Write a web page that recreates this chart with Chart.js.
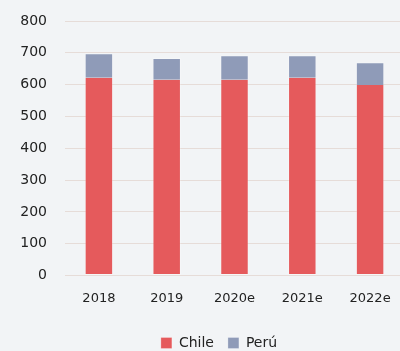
<!DOCTYPE html>
<html>
<head>
<meta charset="utf-8">
<script src="https://cdn.jsdelivr.net/npm/chart.js@4.4.1/dist/chart.umd.min.js"></script>
<style>
  html, body { margin: 0; padding: 0; background: #f2f4f6; overflow: hidden; }
  #wrap { width: 400px; height: 351px; overflow: hidden; }
</style>
</head>
<body>
<div id="wrap"><canvas id="prodChart" width="405" height="365"></canvas></div>
<script>
const years = ["2018", "2019", "2020e", "2021e", "2022e"];
const chile = [622, 615, 615, 622, 599];
const peru = [77, 69, 77, 70, 71];
const yTicks = [0, 100, 200, 300, 400, 500, 600, 700, 800];

const ctx = document.getElementById('prodChart');

const edge = 'rgba(255,255,255,0.25)';
const textColor = '#222';

// nudge the legend a little to the right of the canvas centre
const legendShift = {
    id: 'legendShift',
    afterLayout(chart) {
        chart.legend.left += 17;
        chart.legend.right += 17;
    }
};

new Chart(ctx, {

    type: 'bar',

    data: {
        labels: years,
        datasets: [
            {
                label: 'Chile',
                data: chile,
                backgroundColor: '#e55a5c',
                borderColor: edge,
                borderWidth: 1,
                borderSkipped: 'top'
            },
            {
                label: 'Perú',
                data: peru,
                backgroundColor: '#8f9bb8',
                borderColor: edge,
                borderWidth: 1,
                borderSkipped: 'bottom'
            }
        ]
    },

    options: {
        responsive: false,
        animation: false,
        layout: {
            padding: { left: 0, right: 1, top: 21, bottom: 5 }
        },
        datasets: {
            bar: { barPercentage: 0.42, categoryPercentage: 1 }
        },
        plugins: {
            legend: {
                position: 'bottom',
                labels: {
                    boxWidth: 11,
                    boxHeight: 11,
                    padding: 14,
                    color: textColor,
                    font: { family: 'DejaVu Sans', size: 14 }
                }
            },
            tooltip: { enabled: false }
        },
        scales: {
            x: {
                stacked: true,
                grid: { display: false },
                border: { display: false },
                afterFit: scale => { scale.height = 46.5; },
                ticks: {
                    color: textColor,
                    padding: 7,
                    maxRotation: 0,
                    autoSkip: false,
                    font: { family: 'DejaVu Sans', size: 13 }
                }
            },
            y: {
                stacked: true,
                min: 0,
                max: 800,
                afterBuildTicks: axis => {
                    axis.ticks = yTicks.map(v => ({ value: v }));
                },
                afterFit: scale => {
                    scale.width = 65;
                    scale.paddingTop = 0;
                    scale.paddingBottom = 0;
                },
                grid: { color: '#e6dcd8', drawTicks: false },
                border: { display: false },
                ticks: {
                    color: textColor,
                    padding: 18,
                    font: { family: 'DejaVu Sans', size: 14 }
                }
            }
        }
    },

    plugins: [legendShift]

});
</script>
</body>
</html>
